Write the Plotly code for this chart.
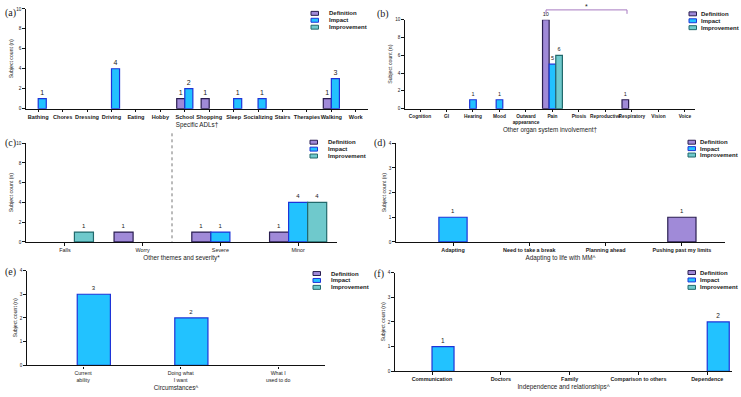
import plotly.graph_objects as go

# ---------------- data ----------------
series_names = ["Definition", "Impact", "Improvement"]

a_categories = ["Bathing", "Chores", "Dressing", "Driving", "Eating", "Hobby", "School",
                "Shopping", "Sleep", "Socializing", "Stairs", "Therapies", "Walking", "Work"]
a_definition = [0, 0, 0, 0, 0, 0, 1, 1, 0, 0, 0, 0, 1, 0]
a_impact = [1, 0, 0, 4, 0, 0, 2, 0, 1, 1, 0, 0, 3, 0]
a_improvement = [0, 0, 0, 0, 0, 0, 0, 0, 0, 0, 0, 0, 0, 0]

b_categories = ["Cognition", "GI", "Hearing", "Mood", "Outward<br>appearance", "Pain",
                "Ptosis", "Reproductive", "Respiratory", "Vision", "Voice"]
b_definition = [0, 0, 0, 0, 0, 10, 0, 0, 1, 0, 0]
b_impact = [0, 0, 1, 1, 0, 5, 0, 0, 0, 0, 0]
b_improvement = [0, 0, 0, 0, 0, 6, 0, 0, 0, 0, 0]

c_categories = ["Falls", "Worry", "Severe", "Minor"]
c_definition = [0, 1, 1, 1]
c_impact = [0, 0, 1, 4]
c_improvement = [1, 0, 0, 4]

d_categories = ["Adapting", "Need to take a break", "Planning ahead", "Pushing past my limits"]
d_definition = [0, 0, 0, 1]
d_impact = [1, 0, 0, 0]
d_improvement = [0, 0, 0, 0]

e_categories = ["Current<br>ability", "Doing what<br>I want", "What I<br>used to do"]
e_definition = [0, 0, 0]
e_impact = [3, 2, 0]
e_improvement = [0, 0, 0]

f_categories = ["Communication", "Doctors", "Family", "Comparison to others", "Dependence"]
f_definition = [0, 0, 0, 0, 0]
f_impact = [1, 0, 0, 0, 2]
f_improvement = [0, 0, 0, 0, 0]

# ---------------- styles ----------------
W, H = 741, 397
FILL = {"Definition": "#A08AD8", "Impact": "#22C2FF", "Improvement": "#6FC9CC"}
LINE = {"Definition": "#2A1E50", "Impact": "#1E34D8", "Improvement": "#22696C"}
FONT = "Liberation Sans"
TXT = "#1a1a1a"


def px(x):
    return x / W


def py(y):
    return 1 - y / H


panels = [
    dict(key="a", cats=a_categories, vals=[a_definition, a_impact, a_improvement],
         xdom=(26, 368), ydom=(7, 108), xr=(-0.5, 13.5), ymax=10, dtick=2,
         width=0.33, offsets=[-0.33, 0.0, 0.33], title="Specific ADLs\u2020",
         label_xy=(3, 11), leg=(311, 327, [11.5, 18.5, 25.5]), vfont=7, tfs=5.6, tw="bold"),
    dict(key="b", cats=b_categories, vals=[b_definition, b_impact, b_improvement],
         xdom=(405, 695), ydom=(18, 108), xr=(-0.566, 10.38), ymax=10, dtick=2,
         width=0.25, offsets=[-0.375, -0.125, 0.125], title="Other organ system involvement\u2020",
         label_xy=(375, 12), leg=(689, 699, [12, 19, 26]), vfont=5.5, tfs=4.8, tw="bold"),
    dict(key="c", cats=c_categories, vals=[c_definition, c_impact, c_improvement],
         xdom=(26, 337), ydom=(143, 243), xr=(-0.5, 3.5), ymax=10, dtick=2,
         width=0.245, offsets=[-0.3675, -0.1225, 0.1225], title="Other themes and severity*",
         label_xy=(3, 143), leg=(310, 326, [142, 149, 156]), vfont=6, tfs=5.4, tw="normal"),
    dict(key="d", cats=d_categories, vals=[d_definition, d_impact, d_improvement],
         xdom=(396, 725), ydom=(143, 243), xr=(-0.747, 3.565), ymax=4, dtick=1,
         width=0.37, offsets=[-0.185, -0.185, -0.185], title="Adapting to life with MM^",
         label_xy=(372, 143), leg=(688, 698, [142, 148.5, 155]), vfont=6, tfs=5.4, tw="bold"),
    dict(key="e", cats=e_categories, vals=[e_definition, e_impact, e_improvement],
         xdom=(27, 325), ydom=(272, 368), xr=(-0.575, 2.48), ymax=4, dtick=1,
         width=0.34, offsets=[-0.06, -0.06, -0.06], title="Circumstances^",
         label_xy=(3, 273), leg=(313, 329, [275, 282, 289]), vfont=6, tfs=5.2, tw="normal"),
    dict(key="f", cats=f_categories, vals=[f_definition, f_impact, f_improvement],
         xdom=(395, 732), ydom=(274, 374), xr=(-0.538, 4.36), ymax=4, dtick=1,
         width=0.32, offsets=[0.0, 0.0, 0.0], title="Independence and relationships^",
         label_xy=(372, 275), leg=(688, 698, [274, 281.5, 289]), vfont=6.5, tfs=5.4, tw="bold"),
]

fig = go.Figure()
layout = dict(
    width=W, height=H, margin=dict(l=0, r=0, t=0, b=0),
    paper_bgcolor="white", plot_bgcolor="white",
    barmode="overlay", showlegend=False,
    font=dict(family=FONT, color=TXT),
)
shapes = []
annotations = []

for i, p in enumerate(panels):
    n = i + 1
    xa = "x" if n == 1 else f"x{n}"
    ya = "y" if n == 1 else f"y{n}"
    xkey = "xaxis" if n == 1 else f"xaxis{n}"
    ykey = "yaxis" if n == 1 else f"yaxis{n}"

    for s, name in enumerate(series_names):
        vals = p["vals"][s]
        yv = [v if v else None for v in vals]
        tx = [str(v) if v else "" for v in vals]
        fig.add_trace(go.Bar(
            x=p["cats"], y=yv, name=name, xaxis=xa, yaxis=ya,
            width=p["width"], offset=p["offsets"][s],
            marker=dict(color=FILL[name], line=dict(color=LINE[name], width=1.2)),
            text=tx, textposition="outside", cliponaxis=False,
            textfont=dict(size=p["vfont"], color=TXT, family=FONT),
            hoverinfo="x+y+name",
        ))

    x0, x1 = p["xdom"]
    y0, y1 = p["ydom"]
    layout[xkey] = dict(
        domain=[px(x0), px(x1)], anchor=ya, type="category",
        categoryorder="array", categoryarray=p["cats"],
        range=list(p["xr"]), showline=True, linecolor="#111", linewidth=1.3,
        ticks="outside", ticklen=2.5, tickwidth=1, tickcolor="#111", tickangle=0,
        tickfont=dict(size=p["tfs"], color=TXT, family=FONT, weight=p["tw"]),
        showgrid=False, zeroline=False, fixedrange=True,
        title=dict(text=p["title"], font=dict(size=6.3, color=TXT, family=FONT), standoff=3),
    )
    layout[ykey] = dict(
        domain=[py(y1), py(y0)], anchor=xa, range=[0, p["ymax"]],
        dtick=p["dtick"], tick0=0,
        showline=True, linecolor="#111", linewidth=1.3,
        ticks="outside", ticklen=2.5, tickwidth=1, tickcolor="#111",
        tickfont=dict(size=4.6, color=TXT, family=FONT),
        showgrid=False, zeroline=False, fixedrange=True,
        title=dict(text="Subject count (n)", font=dict(size=5.2, color=TXT, family=FONT), standoff=2),
    )

    # panel label
    lx, ly = p["label_xy"]
    annotations.append(dict(
        text=f"({p['key']})", xref="paper", yref="paper", x=px(lx), y=py(ly),
        xanchor="left", yanchor="middle", showarrow=False,
        font=dict(family="Liberation Serif", size=10, color=TXT),
    ))

    # legend (manual)
    sx, tx0, rows = p["leg"]
    for s, name in enumerate(series_names):
        ry = rows[s]
        shapes.append(dict(
            type="rect", xref="paper", yref="paper",
            x0=px(sx), x1=px(sx + 7.5), y0=py(ry + 2), y1=py(ry - 2),
            fillcolor=FILL[name], line=dict(color=LINE[name], width=1),
        ))
        annotations.append(dict(
            text=name, xref="paper", yref="paper", x=px(tx0), y=py(ry),
            xanchor="left", yanchor="middle", showarrow=False,
            font=dict(family=FONT, size=6, color=TXT, weight="bold"),
        ))

# significance bracket on (b)
shapes.append(dict(
    type="path", xref="paper", yref="paper",
    path=f"M {px(546)},{py(12)} L {px(546)},{py(8)} L {px(627)},{py(8)} L {px(627)},{py(12)}",
    line=dict(color="#A678C0", width=1),
))
annotations.append(dict(
    text="*", xref="paper", yref="paper", x=px(586), y=py(4.5),
    xanchor="center", yanchor="middle", showarrow=False,
    font=dict(family=FONT, size=7, color=TXT),
))

# dotted separator on (c)
shapes.append(dict(
    type="line", xref="paper", yref="paper",
    x0=px(172), x1=px(172), y0=py(133), y1=py(243),
    line=dict(color="#777777", width=1, dash="dot"),
))

layout["shapes"] = shapes
layout["annotations"] = annotations
fig.update_layout(**layout)

fig.write_html("out.html")
